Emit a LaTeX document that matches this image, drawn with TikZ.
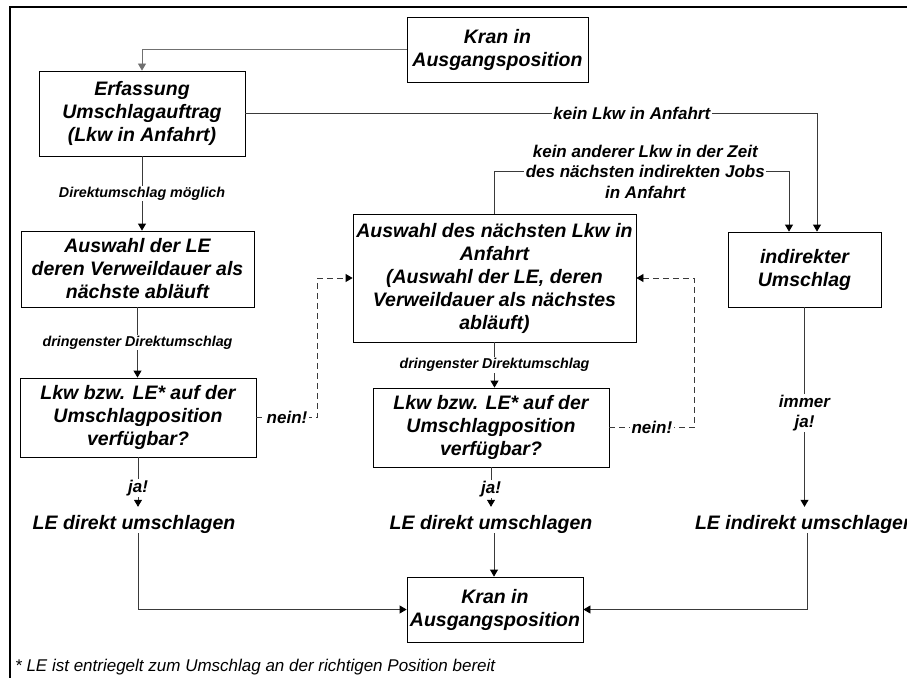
\documentclass[tikz,border=0pt]{standalone}
\usepackage{fontspec}
\setmainfont{Liberation Sans}
\usetikzlibrary{arrows.meta}
\definecolor{linegray}{HTML}{3A3A3A}
\definecolor{topgray}{HTML}{707070}
\begin{document}
\begin{tikzpicture}[x=1pt,y=-1pt,
  box/.style={draw=black, line width=0.8pt, fill=white, align=center, inner sep=0pt,
    font=\bfseries\itshape\fontsize{19.5}{23}\selectfont},
  letxt/.style={anchor=base, inner sep=0pt, text height=22pt, text depth=4pt,
    font=\bfseries\itshape\fontsize{19.5}{23}\selectfont},
  conn/.style={draw=linegray, line width=0.8pt, -{Triangle[length=7pt,width=8pt,color=black]}},
  plain/.style={draw=linegray, line width=0.8pt},
  dashconn/.style={draw=linegray, line width=0.8pt, dash pattern=on 6pt off 4pt,
    -{Triangle[length=7pt,width=8pt,color=black]}},
  lab/.style={fill=white, inner xsep=2pt, inner ysep=1pt,
    font=\bfseries\itshape\fontsize{14.3}{17}\selectfont},
  labm/.style={fill=white, inner xsep=1.5pt, inner ysep=1pt, align=center,
    font=\bfseries\itshape\fontsize{17}{20.5}\selectfont}
]
\useasboundingbox (0,0) rectangle (907,677);
% outer frame
\draw[line width=2pt] (10,7) rectangle (940,700);

% boxes
\node[box, minimum width=181pt, minimum height=65pt] (kranA) at (497.5,49.5) {Kran in\\Ausgangsposition};
\node[box, minimum width=206pt, minimum height=85pt] (erf) at (142,113.5) {Erfassung\\Umschlagauftrag\\(Lkw in Anfahrt)};
\node[box, minimum width=233pt, minimum height=76pt] (ausLE) at (137.5,269) {Auswahl der LE\\deren Verweildauer als\\nächste abläuft};
\node[box, minimum width=236pt, minimum height=79pt] (lkwA) at (138,417.5) {Lkw bzw. LE* auf der\\Umschlagposition\\verfügbar?};
\node[box, minimum width=283pt, minimum height=128pt] (mid) at (494.5,278) {Auswahl des nächsten Lkw in\\Anfahrt\\(Auswahl der LE, deren\\Verweildauer als nächstes\\abläuft)};
\node[box, minimum width=236pt, minimum height=79pt] (lkwB) at (491,427.5) {Lkw bzw. LE* auf der\\Umschlagposition\\verfügbar?};
\node[box, minimum width=153pt, minimum height=75pt] (ind) at (804.5,269.5) {indirekter\\Umschlag};
\node[box, minimum width=176pt, minimum height=65pt] (kranB) at (495,609.5) {Kran in\\Ausgangsposition};

% result texts
\node[letxt] (leA) at (134,529) {LE direkt umschlagen};
\node[letxt] (leB) at (491,529) {LE direkt umschlagen};
\node[letxt] (leC) at (805,529) {LE indirekt umschlagen};

% connectors
\draw[draw=topgray, line width=0.8pt, -{Triangle[length=7pt,width=8pt]}] (kranA.west) -| (erf.north);
\draw[conn] (erf.south) -- node[lab] {Direktumschlag möglich} (erf.south |- ausLE.north);
\draw[conn] (ausLE.south) -- node[lab] {dringenster Direktumschlag} (ausLE.south |- lkwA.north);
\draw[conn] (lkwA.south) -- node[labm, pos=0.62] {ja!} (lkwA.south |- leA.north);
\draw[conn] (lkwA.south |- leA.south) |- (kranB.west);

\draw[conn] (mid.south) -- node[lab] {dringenster Direktumschlag} (mid.south |- lkwB.north);
\draw[conn] (lkwB.south) -- node[labm, pos=0.55] {ja!} (lkwB.south |- leB.north);
\draw[conn] ([xshift=3pt]leB.south) -- ([xshift=3pt]leB.south |- kranB.north);

\draw[conn] (erf.east) -| node[labm, pos=0.338] {kein Lkw in Anfahrt} ([xshift=12.5pt]ind.north);
\draw[conn] (mid.north) -- ++(0,-42) -| node[labm, pos=0.256] {kein anderer Lkw in der Zeit\\des nächsten indirekten Jobs\\in Anfahrt} ([xshift=-15.5pt]ind.north);

\draw[conn] (ind.south) -- node[labm, pos=0.53] {immer\\ja!} (ind.south |- leC.north);
\draw[conn] ([xshift=2pt]leC.south) |- (kranB.east);

\draw[dashconn] (lkwA.east) -| node[labm, pos=0.25] {nein!} ([xshift=-35pt]mid.west) -- (mid.west);
\draw[dashconn] (lkwB.east) -| node[labm, pos=0.25] {nein!} ([xshift=58pt]mid.east) -- (mid.east);

% footnote
\node[anchor=base west, inner sep=0pt, font=\itshape\fontsize{17}{20}\selectfont] (foot) at (15,671)
  {* LE ist entriegelt zum Umschlag an der richtigen Position bereit};
\end{tikzpicture}
\end{document}
